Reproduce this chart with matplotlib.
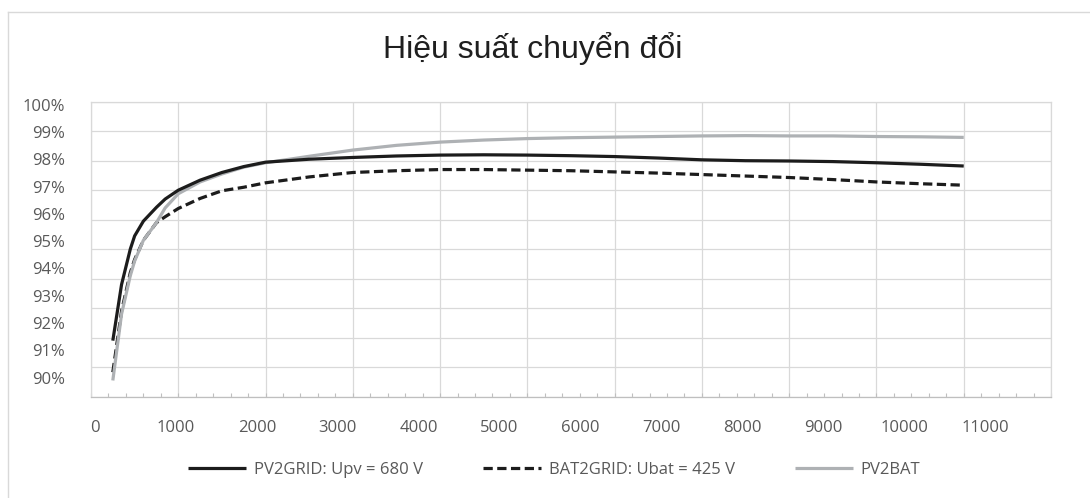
import matplotlib
matplotlib.use("Agg")
import matplotlib.pyplot as plt
from matplotlib.ticker import MultipleLocator, FixedLocator
from matplotlib.lines import Line2D
import numpy as np

# ---------------- data ----------------
power = [250, 350, 450, 500, 600, 750, 850, 1000, 1250, 1500, 1750, 2000, 2500,
         3000, 3500, 4000, 4500, 5000, 5500, 6000, 6500, 7000, 7500, 8000,
         8500, 9000, 9500, 10000]

pv2grid = [91.9, 93.8, 95.0, 95.45, 95.95, 96.42, 96.7, 97.0, 97.34, 97.6, 97.8,
           97.95, 98.05, 98.11, 98.16, 98.19, 98.2, 98.19, 98.17, 98.14, 98.09,
           98.03, 98.0, 97.99, 97.97, 97.93, 97.88, 97.82]

bat2grid = [90.83, 92.9, 94.2, 94.65, 95.3, 95.9, 96.1, 96.38, 96.72, 96.98,
            97.1, 97.25, 97.45, 97.6, 97.66, 97.7, 97.7, 97.68, 97.66, 97.62,
            97.58, 97.53, 97.48, 97.43, 97.36, 97.28, 97.22, 97.17]

pv2bat = [90.55, 92.8, 94.1, 94.6, 95.3, 95.9, 96.4, 96.88, 97.28, 97.55, 97.78,
          97.93, 98.15, 98.36, 98.52, 98.63, 98.7, 98.75, 98.78, 98.8, 98.82,
          98.84, 98.85, 98.84, 98.84, 98.82, 98.81, 98.79]

series_labels = ["PV2GRID: Upv = 680 V", "BAT2GRID: Ubat = 425 V", "PV2BAT"]
title = "Hiệu suất chuyển đổi"
x_ticks = [0, 1000, 2000, 3000, 4000, 5000, 6000, 7000, 8000, 9000, 10000, 11000]
y_ticks = [0.90, 0.91, 0.92, 0.93, 0.94, 0.95, 0.96, 0.97, 0.98, 0.99, 1.00]

# ---------------- figure ----------------
W, H = 1090, 498
fig = plt.figure(figsize=(W / 100, H / 100), dpi=100)
fig.patch.set_facecolor("white")

left, right, top, bottom = 91, 1051, 101.7, 396.7
ax = fig.add_axes([left / W, 1 - bottom / H, (right - left) / W, (bottom - top) / H])

x = np.array(power)
ax.plot(x, np.array(pv2grid) / 100, color="#1c1c1c", lw=2.3, solid_capstyle="butt",
        label=series_labels[0], zorder=4)
ax.plot(x, np.array(bat2grid) / 100, color="#1c1c1c", lw=2.3, dashes=(2.9, 1.4),
        label=series_labels[1], zorder=3)
ax.plot(x, np.array(pv2bat) / 100, color="#aeb1b4", lw=2.3, solid_capstyle="butt",
        label=series_labels[2], zorder=3.5)

ax.set_xlim(0, 11000)
ax.set_ylim(0.90, 1.00)

grid_c = "#d9d9d9"
ax.xaxis.set_major_locator(FixedLocator(x_ticks))
ax.xaxis.set_minor_locator(MultipleLocator(200))
ax.yaxis.set_major_locator(FixedLocator(y_ticks))
ax.grid(True, which="major", color=grid_c, lw=0.9)
ax.set_axisbelow(True)
ax.tick_params(axis="x", which="both", direction="in", length=3.2, color="#bfbfbf",
               labelbottom=False, width=0.8)
ax.tick_params(axis="y", which="both", length=0, labelleft=False)
for s in ["left", "top", "right"]:
    ax.spines[s].set_color(grid_c)
    ax.spines[s].set_linewidth(0.9)
ax.spines["bottom"].set_color("#bfbfbf")
ax.spines["bottom"].set_linewidth(0.9)

lab_font = "Open Sans"
lab_col = "#595959"

# tick labels (rendered slightly compressed toward the top-left, as in the reference)
sx = ax.secondary_xaxis("bottom")
sx.set_xticks([t * 0.927 + 46 for t in x_ticks], [str(t) for t in x_ticks])
sx.tick_params(length=0, pad=16.5, labelsize=12, labelcolor=lab_col)
for lbl in sx.get_xticklabels():
    lbl.set_fontfamily(lab_font)
sx.spines["bottom"].set_visible(False)

sy = ax.secondary_yaxis("left")
sy.set_yticks([1 - 0.0011 - 0.924 * (1 - t) for t in y_ticks],
              [f"{round(t * 100)}%" for t in y_ticks])
sy.tick_params(length=0, pad=18.5, labelsize=12, labelcolor=lab_col)
for lbl in sy.get_yticklabels():
    lbl.set_fontfamily(lab_font)
sy.spines["left"].set_visible(False)

# title
fig.text(533 / W, 1 - 49 / H, title, ha="center", va="center",
         fontsize=23, family="Liberation Sans", color="#1f1f1f")

# legend
handles, labels = ax.get_legend_handles_labels()
leg = fig.legend(handles, labels, loc="center", bbox_to_anchor=(554 / W, 1 - 470 / H),
                 ncol=3, frameon=False, handlelength=3.5, handletextpad=0.45,
                 columnspacing=3.6, prop={"family": lab_font, "size": 12})
for t in leg.get_texts():
    t.set_color(lab_col)

# chart-area border (top & left visible in the reference)
fig.add_artist(Line2D([8 / W, 8 / W], [0, 1 - 12 / H], transform=fig.transFigure,
                      color="#d9d9d9", lw=1))
fig.add_artist(Line2D([8 / W, 1], [1 - 12 / H, 1 - 12 / H], transform=fig.transFigure,
                      color="#d9d9d9", lw=1))

fig.savefig("out.png", dpi=100, facecolor="white")
